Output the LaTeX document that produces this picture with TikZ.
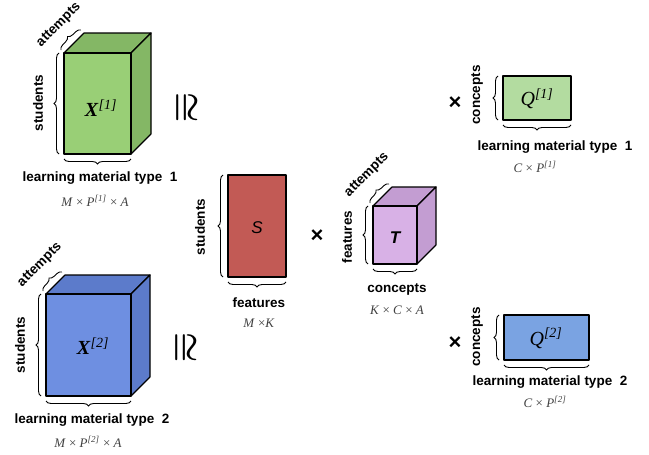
\documentclass[tikz,border=0pt]{standalone}
\usepackage{amsmath}
\usepackage{fontspec}
\setsansfont{Liberation Sans}
\newfontfamily\tms{Liberation Serif}
\usetikzlibrary{decorations.pathreplacing}

\definecolor{greenfront}{HTML}{99CF76}
\definecolor{greenback}{HTML}{84B765}
\definecolor{bluefront}{HTML}{6E8FE1}
\definecolor{blueback}{HTML}{5C7BCB}
\definecolor{redfront}{HTML}{C25A55}
\definecolor{purplefront}{HTML}{D8B1E6}
\definecolor{purpleback}{HTML}{C39DD2}
\definecolor{qgreen}{HTML}{B3DCA0}
\definecolor{qblue}{HTML}{7AA3E2}

\tikzset{
	face/.style={draw=black, line width=1.2pt, line join=round},
	brc/.style={decorate, decoration={brace, amplitude=5pt}, line width=0.9pt},
	dimlabel/.style={font=\sffamily\bfseries\fontsize{13.5}{15}\selectfont, inner sep=0pt},
	sizelabel/.style={font=\tms\fontsize{13}{15}\selectfont, text=black!75, inner sep=0pt},
	opsign/.style={font=\sffamily\bfseries\fontsize{22}{24}\selectfont, inner sep=0pt},
	congsign/.style={rotate=-90, scale=3.4, inner sep=0pt},
}

\begin{document}
\begin{tikzpicture}[x=1pt, y=-1pt]
	\useasboundingbox (0,0) rectangle (649,455);

	% first tensor
	\coordinate (x1a) at (64,53);
	\coordinate (x1b) at (131,53);
	\coordinate (x1c) at (131,154);
	\coordinate (x1d) at (64,154);
	\draw [face, fill=greenback] (x1a) -- ++(20,-20) -- ++(67,0) -- (x1b) -- cycle;
	\draw [face, fill=greenback] (x1b) -- ++(20,-20) -- ++(0,101) -- (x1c) -- cycle;
	\draw [face, fill=greenfront] (x1a) rectangle (x1c);
	\node at (101,108) (x1) {\tms\fontsize{20}{22}\selectfont\textbf{\textit{X}}\textsuperscript{\textit{[1]}}};
	\draw [brc] ([xshift=-5pt]x1d) -- ([xshift=-5pt]x1a);
	\draw [brc] ([shift={(-3pt,3pt)}]x1a) -- ++(20,-20);
	\draw [brc] ([yshift=-5pt]x1c) -- ([yshift=-5pt]x1d);
	\node [dimlabel, rotate=90] at (38,103) (x1rows) {students};
	\node [dimlabel, rotate=45] at (59,25) (x1depth) {attempts};
	\node [dimlabel] at (100,178) (x1cols) {learning material type\ \ 1};
	\node [sizelabel] at (95,201) (x1size) {\textit{M} × \textit{P}\textsuperscript{\textit{[1]}} × \textit{A}};
	\node [congsign] at (185,108) (cong1) {$\boldsymbol{\cong}$};

	% second tensor
	\coordinate (x2a) at (46,294);
	\coordinate (x2b) at (131,294);
	\coordinate (x2c) at (131,396);
	\coordinate (x2d) at (46,396);
	\draw [face, fill=blueback] (x2a) -- ++(19,-19) -- ++(85,0) -- (x2b) -- cycle;
	\draw [face, fill=blueback] (x2b) -- ++(19,-19) -- ++(0,102) -- (x2c) -- cycle;
	\draw [face, fill=bluefront] (x2a) rectangle (x2c);
	\node at (93,346) (x2) {\tms\fontsize{20}{22}\selectfont\textbf{\textit{X}}\textsuperscript{\textit{[2]}}};
	\draw [brc] ([xshift=-5pt]x2d) -- ([xshift=-5pt]x2a);
	\draw [brc] ([shift={(-3pt,3pt)}]x2a) -- ++(19,-19);
	\draw [brc] ([yshift=-5pt]x2c) -- ([yshift=-5pt]x2d);
	\node [dimlabel, rotate=90] at (20,345) (x2rows) {students};
	\node [dimlabel, rotate=45] at (40,265) (x2depth) {attempts};
	\node [dimlabel] at (92,420) (x2cols) {learning material type\ \ 2};
	\node [sizelabel] at (88,442) (x2size) {\textit{M} × \textit{P}\textsuperscript{\textit{[2]}} × \textit{A}};
	\node [congsign] at (184,348) (cong2) {$\boldsymbol{\cong}$};

	% student matrix
	\coordinate (sa) at (228,175);
	\coordinate (sc) at (286,277);
	\draw [face, fill=redfront] (sa) rectangle (sc);
	\node at (257,228) (s) {\fontsize{17}{19}\selectfont\sffamily\itshape S};
	\draw [brc] ([xshift=-5pt]sa |- sc) -- ([xshift=-5pt]sa);
	\draw [brc] ([yshift=-5pt]sc) -- ([yshift=-5pt]sa |- sc);
	\node [dimlabel, rotate=90] at (200,227) (srows) {students};
	\node [dimlabel] at (259,303) (scols) {features};
	\node [sizelabel] at (259,323) (ssize) {\textit{M} ×\textit{K}};
	\node [opsign] at (317,236) (times1) {×};

	% concept tensor
	\coordinate (ta) at (373,206);
	\coordinate (tb) at (417,206);
	\coordinate (tc) at (417,264);
	\coordinate (td) at (373,264);
	\draw [face, fill=purpleback] (ta) -- ++(19,-19) -- ++(44,0) -- (tb) -- cycle;
	\draw [face, fill=purpleback] (tb) -- ++(19,-19) -- ++(0,58) -- (tc) -- cycle;
	\draw [face, fill=purplefront] (ta) rectangle (tc);
	\node at (395,238) (t) {\fontsize{17}{19}\selectfont\sffamily\bfseries\itshape T};
	\draw [brc] ([xshift=-5pt]td) -- ([xshift=-5pt]ta);
	\draw [brc] ([shift={(-3pt,3pt)}]ta) -- ++(19,-19);
	\draw [brc] ([yshift=-5pt]tc) -- ([yshift=-5pt]td);
	\node [dimlabel, rotate=90] at (347,237) (trows) {features};
	\node [dimlabel, rotate=45] at (367,175) (tdepth) {attempts};
	\node [dimlabel] at (397,289) (tcols) {concepts};
	\node [sizelabel] at (397,310) (tsize) {\textit{K} × \textit{C} × \textit{A}};

	% first q-matrix
	\coordinate (q1a) at (503,76);
	\coordinate (q1c) at (571,120);
	\draw [face, fill=qgreen] (q1a) rectangle (q1c);
	\node at (537,99) (q1) {\tms\fontsize{20}{22}\selectfont\textit{Q}\textsuperscript{\textit{[1]}}};
	\draw [brc] ([xshift=-5pt]q1a |- q1c) -- ([xshift=-5pt]q1a);
	\draw [brc] ([yshift=-5pt]q1c) -- ([yshift=-5pt]q1a |- q1c);
	\node [dimlabel, rotate=90] at (477,95) (q1rows) {concepts};
	\node [dimlabel] at (555,147) (q1cols) {learning material type\ \ 1};
	\node [sizelabel] at (535,167) (q1size) {\textit{C} × \textit{P}\textsuperscript{\textit{[1]}}};
	\node [opsign] at (455,103) (times2) {×};

	% second q-matrix
	\coordinate (q2a) at (504,315);
	\coordinate (q2c) at (589,360);
	\draw [face, fill=qblue] (q2a) rectangle (q2c);
	\node at (546,338) (q2) {\tms\fontsize{20}{22}\selectfont\textit{Q}\textsuperscript{\textit{[2]}}};
	\draw [brc] ([xshift=-5pt]q2a |- q2c) -- ([xshift=-5pt]q2a);
	\draw [brc] ([yshift=-5pt]q2c) -- ([yshift=-5pt]q2a |- q2c);
	\node [dimlabel, rotate=90] at (477,337) (q2rows) {concepts};
	\node [dimlabel] at (550,382) (q2cols) {learning material type\ \ 2};
	\node [sizelabel] at (545,402) (q2size) {\textit{C} × \textit{P}\textsuperscript{\textit{[2]}}};
	\node [opsign] at (455,343) (times3) {×};
\end{tikzpicture}
\end{document}
